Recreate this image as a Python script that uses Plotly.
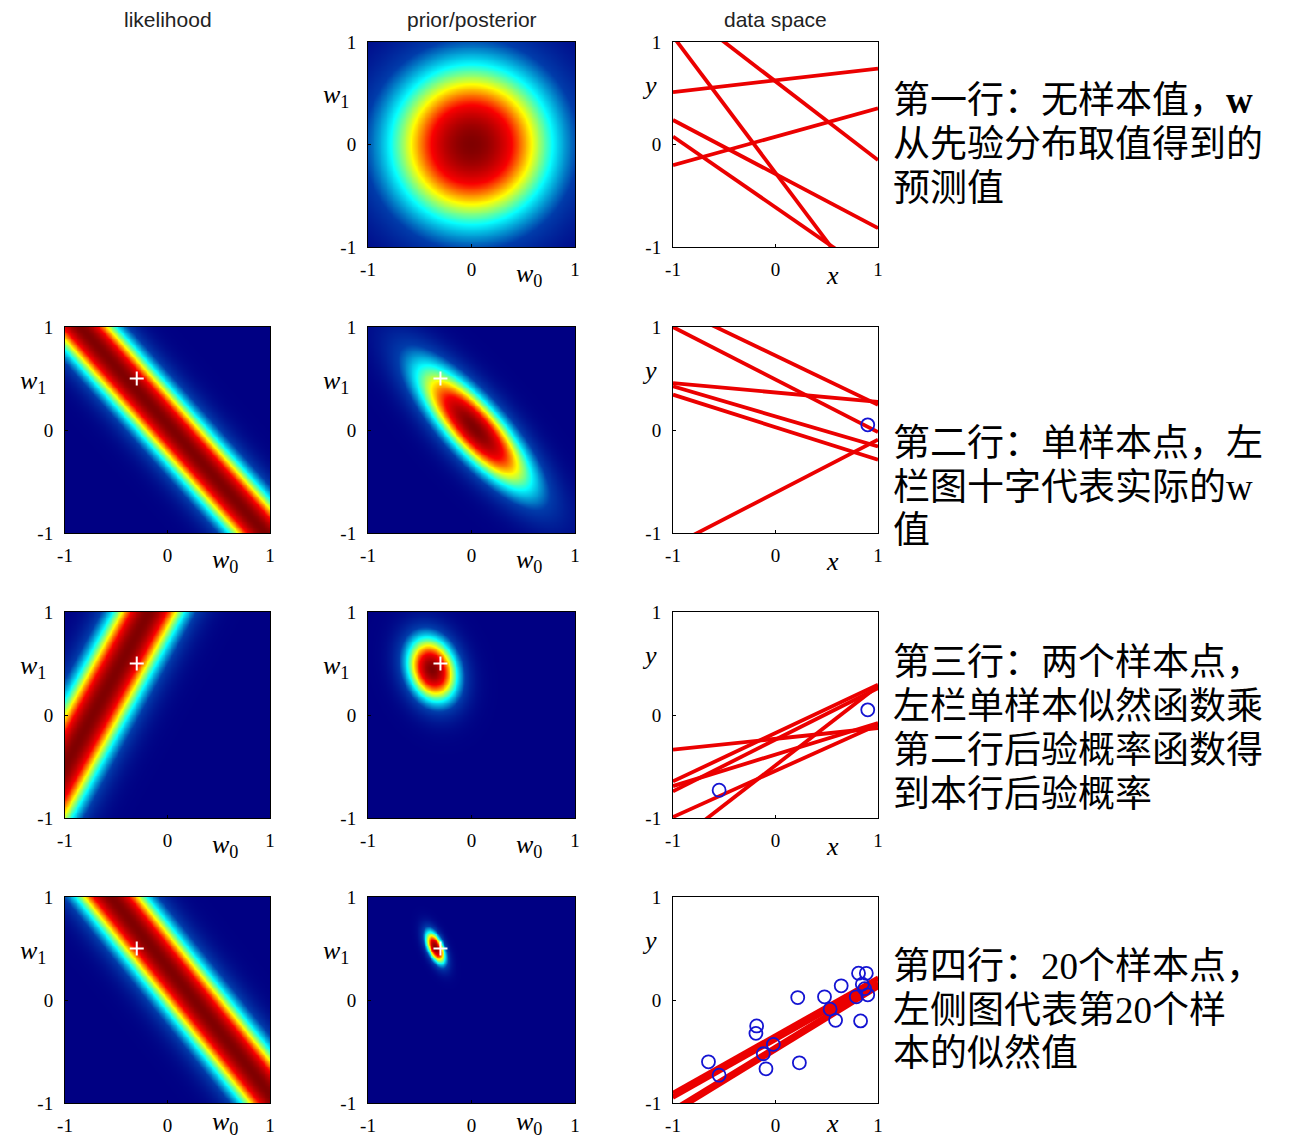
import numpy as np
import plotly.graph_objects as go

# ---------------- data ----------------
true_w = [-0.3, 0.5]          # white cross
alpha = 3.0                   # prior precision
beta = 15.0                   # noise precision

# 20 observed points (order = order of arrival)
data_x = [0.90, -0.55, -0.654, -0.184, -0.191, -0.119, -0.093, -0.021, 0.217, 0.233,
          0.478, 0.533, 0.586, 0.641, 0.788, 0.830, 0.886, 0.847, 0.870, 0.81]
data_t = [0.05, -0.73, -0.600, -0.252, -0.324, -0.522, -0.668, -0.431, 0.024, -0.610,
          0.031, -0.089, -0.197, 0.138, 0.031, -0.203, 0.259, 0.154, 0.110, 0.26]

# points shown in each row and the number used for the posterior
n_points_row = [0, 1, 2, 20]

# sampled lines in data space: y at x=-1 and y at x=1
lines_yL = [
    [1.056, 1.384, 0.511, -0.201, 0.239, 0.078],
    [1.000, 1.199, 0.456, 0.424, 0.343, -1.122],
    [-0.337, -0.644, -0.741, -0.990, -1.259, -0.690],
    [-0.93, -0.95, -1.06, -1.10, -0.90, -1.08],
]
lines_yR = [
    [-1.608, -0.152, 0.741, 0.353, -0.816, -1.304],
    [-0.020, 0.245, 0.272, -0.159, -0.288, -0.094],
    [-0.126, 0.294, 0.262, -0.094, 0.281, -0.078],
    [0.20, 0.17, 0.16, 0.12, 0.22, 0.14],
]

tick_vals = [-1, 0, 1]
tick_text = ["-1", "0", "1"]
col_titles = ["likelihood", "prior/posterior", "data space"]

SER = "<span style='font-family:Liberation Serif'>"
notes = [
    ["第一行：无样本值，<b>" + SER + "w</span></b>", "从先验分布取值得到的", "预测值"],
    ["第二行：单样本点，左", "栏图十字代表实际的" + SER + "w</span>", "值"],
    ["第三行：两个样本点，", "左栏单样本似然函数乘", "第二行后验概率函数得", "到本行后验概率"],
    ["第四行：" + SER + "20</span>个样本点，", "左侧图代表第" + SER + "20</span>个样", "本的似然值"],
]
note_line_y = [[97, 141, 185], [440, 484, 527], [659, 703, 747, 791], [963, 1007, 1050]]

# ---------------- layout geometry (reference pixels) ----------------
OFF = 8                      # page body margin
FW, FH = 1294 - 2 * OFF, 1138 - OFF
col_px = [(65, 270), (368, 575), (673, 878)]
row_px = [(42, 247), (327, 533), (612, 818), (897, 1103)]


def px(x):
    return (x - OFF) / FW


def py(y):
    return 1 - (y - OFF) / FH


grid = np.linspace(-1, 1, 241)
G0, G1 = np.meshgrid(grid, grid)


def likelihood(n):
    xn, tn = data_x[n], data_t[n]
    z = np.exp(-0.5 * beta * (tn - G0 - G1 * xn) ** 2)
    return z / z.max()


def posterior(N):
    A = alpha * np.eye(2)
    b = np.zeros(2)
    for i in range(N):
        phi = np.array([1.0, data_x[i]])
        A = A + beta * np.outer(phi, phi)
        b = b + beta * phi * data_t[i]
    S = np.linalg.inv(A)
    m = S @ b
    d0 = G0 - m[0]
    d1 = G1 - m[1]
    q = A[0, 0] * d0 ** 2 + 2 * A[0, 1] * d0 * d1 + A[1, 1] * d1 ** 2
    z = np.exp(-0.5 * q)
    return z / z.max()


fig = go.Figure()
serif = "Liberation Serif"
annotations = []
axis_id = 0
layout_axes = {}

for r in range(4):
    for c in range(3):
        if r == 0 and c == 0:
            continue
        axis_id += 1
        xa = "x" if axis_id == 1 else f"x{axis_id}"
        ya = "y" if axis_id == 1 else f"y{axis_id}"
        xl, xr = col_px[c]
        yt, yb = row_px[r]
        common = dict(range=[-1, 1], showgrid=False, zeroline=False, showline=True,
                      linecolor="black", linewidth=1, mirror=True, ticks="inside",
                      ticklen=3, tickcolor="black", tickvals=tick_vals, ticktext=tick_text,
                      automargin=False, fixedrange=True,
                      tickfont=dict(family=serif, size=19, color="black"))
        layout_axes["xaxis" if axis_id == 1 else f"xaxis{axis_id}"] = dict(
            common, domain=[px(xl), px(xr)], anchor=ya, ticklabelstandoff=5)
        layout_axes["yaxis" if axis_id == 1 else f"yaxis{axis_id}"] = dict(
            common, domain=[py(yb), py(yt)], anchor=xa, ticklabelstandoff=7)

        if c < 2:
            z = likelihood(n_points_row[r] - 1) if c == 0 else posterior(n_points_row[r])
            fig.add_trace(go.Heatmap(x=grid, y=grid, z=z, colorscale="Jet", zmin=0, zmax=1,
                                     showscale=False, xaxis=xa, yaxis=ya, hoverinfo="skip"))
            if r > 0:
                fig.add_trace(go.Scatter(x=[true_w[0]], y=[true_w[1]], mode="markers",
                                         marker=dict(symbol="cross-thin", size=10, color="white",
                                                     line=dict(color="white", width=2)),
                                         xaxis=xa, yaxis=ya, showlegend=False))
            lab_x, lab_y = "<i>w</i><sub>0</sub>", "<i>w</i><sub>1</sub>"
            yl_off = 32
            ylab_data = 0.47
        else:
            for yl, yr in zip(lines_yL[r], lines_yR[r]):
                fig.add_trace(go.Scatter(x=[-1, 1], y=[yl, yr], mode="lines",
                                         line=dict(color="rgb(235,0,0)", width=3.8),
                                         xaxis=xa, yaxis=ya, showlegend=False))
            n = n_points_row[r]
            if n > 0:
                fig.add_trace(go.Scatter(x=data_x[:n], y=data_t[:n], mode="markers",
                                         marker=dict(symbol="circle-open", size=13,
                                                     color="rgb(20,20,210)",
                                                     line=dict(color="rgb(20,20,210)", width=1.8)),
                                         xaxis=xa, yaxis=ya, showlegend=False))
            lab_x, lab_y = "<i>x</i>", "<i>y</i>"
            yl_off = 24
            ylab_data = 0.58
        # axis labels
        lab_off = 28 if r < 3 else 20
        annotations.append(dict(x=px(xl + 0.78 * (xr - xl)), y=py(yb + lab_off), xref="paper",
                                yref="paper", text=lab_x, showarrow=False, xanchor="center",
                                yanchor="middle", font=dict(family=serif, size=26, color="black")))
        annotations.append(dict(x=px(xl - yl_off), y=py(yt + (1 - ylab_data) / 2 * (yb - yt)),
                                xref="paper", yref="paper", text=lab_y, showarrow=False,
                                xanchor="center", yanchor="middle",
                                font=dict(family=serif, size=26, color="black")))

# column titles
for c, t in enumerate(col_titles):
    xl, xr = col_px[c]
    annotations.append(dict(x=px((xl + xr) / 2), y=py(20), xref="paper", yref="paper", text=t,
                            showarrow=False, xanchor="center", yanchor="middle",
                            font=dict(family="Liberation Sans", size=21, color="#222222")))

# notes on the right
for lines, ys in zip(notes, note_line_y):
    for t, yy in zip(lines, ys):
        annotations.append(dict(x=px(891), y=py(yy), xref="paper", yref="paper", text=t,
                                showarrow=False, xanchor="left", yanchor="middle",
                                font=dict(family="Noto Sans CJK SC", size=37, color="black")))

fig.update_layout(width=FW, height=FH, margin=dict(l=0, r=0, t=0, b=0, autoexpand=False),
                  paper_bgcolor="white", plot_bgcolor="white", showlegend=False,
                  annotations=annotations, **layout_axes)

fig.write_html("out.html")
